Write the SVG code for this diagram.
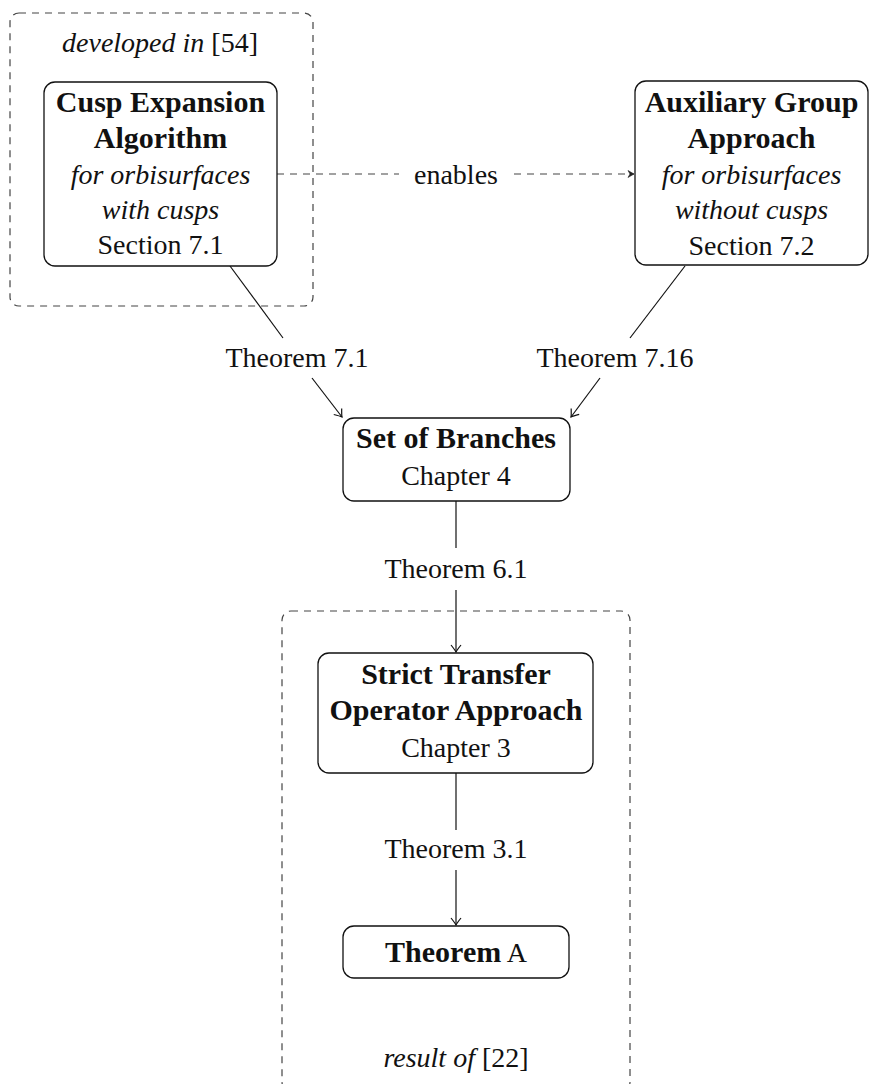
<svg xmlns="http://www.w3.org/2000/svg" width="869" height="1084" viewBox="0 0 869 1084">
<defs>
<style>
text{font-family:"Liberation Serif","DejaVu Serif",serif;font-size:28px;fill:#111;text-anchor:middle}
.b{font-weight:bold;font-size:30px}
.i{font-style:italic}
.node{fill:#fff;stroke:#111;stroke-width:1.3}
.group{fill:none;stroke:#444;stroke-width:1.2;stroke-dasharray:7 6}
.edge{fill:none;stroke:#111;stroke-width:1.2}
.dedge{fill:none;stroke:#444;stroke-width:1.2;stroke-dasharray:7 6}
</style>
<marker id="to" markerUnits="userSpaceOnUse" markerWidth="14" markerHeight="14" viewBox="-8 -7 10 14" refX="0" refY="0" orient="auto">
<path d="M-7,-5 Q-2,-1 0,0 Q-2,1 -7,5" fill="none" stroke="#111" stroke-width="1.2"/>
</marker>
<marker id="tip" markerUnits="userSpaceOnUse" markerWidth="12" markerHeight="12" viewBox="-8 -6 10 12" refX="0" refY="0" orient="auto">
<path d="M-6,-3.5 L0,0 L-6,3.5 L-4,0 Z" fill="#222" stroke="#222" stroke-width="0.6"/>
</marker>
</defs>

<g id="group-developed">
<rect class="group" x="10" y="13" width="303" height="293" rx="9"/>
<text x="160" y="52"><tspan class="i">developed in</tspan> [54]</text>
</g>
<g id="group-result">
<rect class="group" x="282" y="611" width="348" height="480" rx="9"/>
<text x="456" y="1067"><tspan class="i">result of</tspan> [22]</text>
</g>

<g id="connectors">
<line class="dedge" x1="277" y1="174" x2="399" y2="174"/>
<text x="456" y="184">enables</text>
<line class="dedge" x1="514" y1="174" x2="634" y2="174" marker-end="url(#tip)"/>
<line class="edge" x1="230" y1="266" x2="283" y2="338"/>
<text x="297" y="367">Theorem 7.1</text>
<line class="edge" x1="312" y1="378" x2="342" y2="417" marker-end="url(#to)"/>
<line class="edge" x1="685" y1="266" x2="630" y2="338"/>
<text x="615" y="367">Theorem 7.16</text>
<line class="edge" x1="600" y1="378" x2="571" y2="417" marker-end="url(#to)"/>
<line class="edge" x1="456" y1="501" x2="456" y2="548"/>
<text x="456" y="578">Theorem 6.1</text>
<line class="edge" x1="456" y1="590" x2="456" y2="652" marker-end="url(#to)"/>
<line class="edge" x1="456" y1="773" x2="456" y2="830"/>
<text x="456" y="858">Theorem 3.1</text>
<line class="edge" x1="456" y1="870" x2="456" y2="925" marker-end="url(#to)"/>
</g>

<g id="node-cusp">
<rect class="node" x="44" y="82" width="233" height="184" rx="11"/>
<text x="160.5" y="112" class="b">Cusp Expansion</text>
<text x="160.5" y="148" class="b">Algorithm</text>
<text x="160.5" y="184" class="i">for orbisurfaces</text>
<text x="160.5" y="219" class="i">with cusps</text>
<text x="160.5" y="254">Section 7.1</text>
</g>
<g id="node-aux">
<rect class="node" x="635" y="81" width="233" height="184" rx="11"/>
<text x="751.5" y="112" class="b">Auxiliary Group</text>
<text x="751.5" y="148" class="b">Approach</text>
<text x="751.5" y="184" class="i">for orbisurfaces</text>
<text x="751.5" y="219" class="i">without cusps</text>
<text x="751.5" y="255">Section 7.2</text>
</g>
<g id="node-branches">
<rect class="node" x="343" y="418" width="227" height="83" rx="11"/>
<text x="456" y="448" class="b">Set of Branches</text>
<text x="456" y="485">Chapter 4</text>
</g>
<g id="node-strict">
<rect class="node" x="318" y="653" width="275" height="120" rx="11"/>
<text x="456" y="684" class="b">Strict Transfer</text>
<text x="456" y="720" class="b">Operator Approach</text>
<text x="456" y="757">Chapter 3</text>
</g>
<g id="node-theoremA">
<rect class="node" x="343" y="926" width="226" height="52" rx="11"/>
<text x="456" y="962"><tspan class="b">Theorem</tspan> A</text>
</g>
</svg>
